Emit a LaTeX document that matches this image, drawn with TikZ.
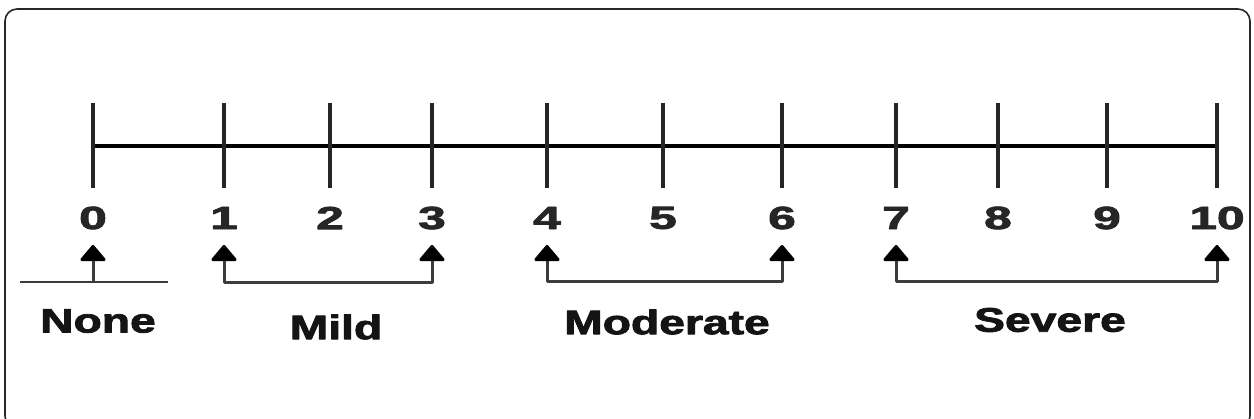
\documentclass[tikz,border=0pt]{standalone}
\usepackage{fontspec}
\setmainfont{Liberation Sans}
\newfontfamily\heavyfont{Liberation Sans Bold}[FakeBold=2.2]
\usetikzlibrary{arrows.meta, positioning}
\definecolor{framecolor}{RGB}{40, 40, 40}
\definecolor{barcolor}{RGB}{60, 60, 60}

\begin{document}
\begin{tikzpicture}[x=1pt, y=-1pt, line cap=butt, line join=round,
    digit/.style={font=\fontsize{32}{36}\heavyfont, xscale=1.55, inner sep=0pt, text=black!85},
    grade/.style={font=\fontsize{34}{38}\heavyfont, xscale=1.36, inner sep=0pt, text=black!92},
    gradebar/.style={barcolor, line width=3pt,
      {Triangle[width=28pt, length=17pt, round, color=black]}-{Triangle[width=28pt, length=17pt, round, color=black]}},
    pointer/.style={barcolor, line width=3pt, -{Triangle[width=28pt, length=17pt, round, color=black]}}]

  % Canvas and frame
  \useasboundingbox (0,0) rectangle (1254,419);
  \fill[white] (0,0) rectangle (1254,419);
  \begin{scope}
    \clip (0,0) rectangle (1254,419);
    \draw[framecolor, line width=1.6pt, rounded corners=12pt] (5,9) rectangle (1250,428);
  \end{scope}

  % Draw the scale line
  \draw[line width=3.2pt] (93,146) -- (1217,146);

  % Ticks and numbers
  \foreach \x/\n in {93/0, 224/1, 330/2, 432/3, 547/4, 663/5, 782/6, 896/7, 998/8, 1107/9, 1217/10} {
    \draw[line width=4.5pt, black!85] (\x,103) -- (\x,188);
    \node[digit] (n\n) at (\x,218) {\n};
    \coordinate (t\n) at (\x,245);
  }

  % Bar under "None"
  \coordinate (nonel) at (20,282);
  \coordinate (noner) at (168,282);
  \draw[barcolor, line width=2.5pt] (nonel) -- (noner);
  \draw[pointer] (nonel -| t0) -- (t0);

  % Grade ranges
  \draw[gradebar] (t1) -- ++(0,38) -| (t3);
  \draw[gradebar] (t4) -- ++(0,37) -| (t6);
  \draw[gradebar] (t7) -- ++(0,37) -| (t10);

  % Grade labels
  \node[grade] (none) at (98,321) {None};
  \node[grade] (mild) at (336,327) {Mild};
  \node[grade] (moderate) at (667,322) {Moderate};
  \node[grade] (severe) at (1050,320) {Severe};

\end{tikzpicture}
\end{document}
